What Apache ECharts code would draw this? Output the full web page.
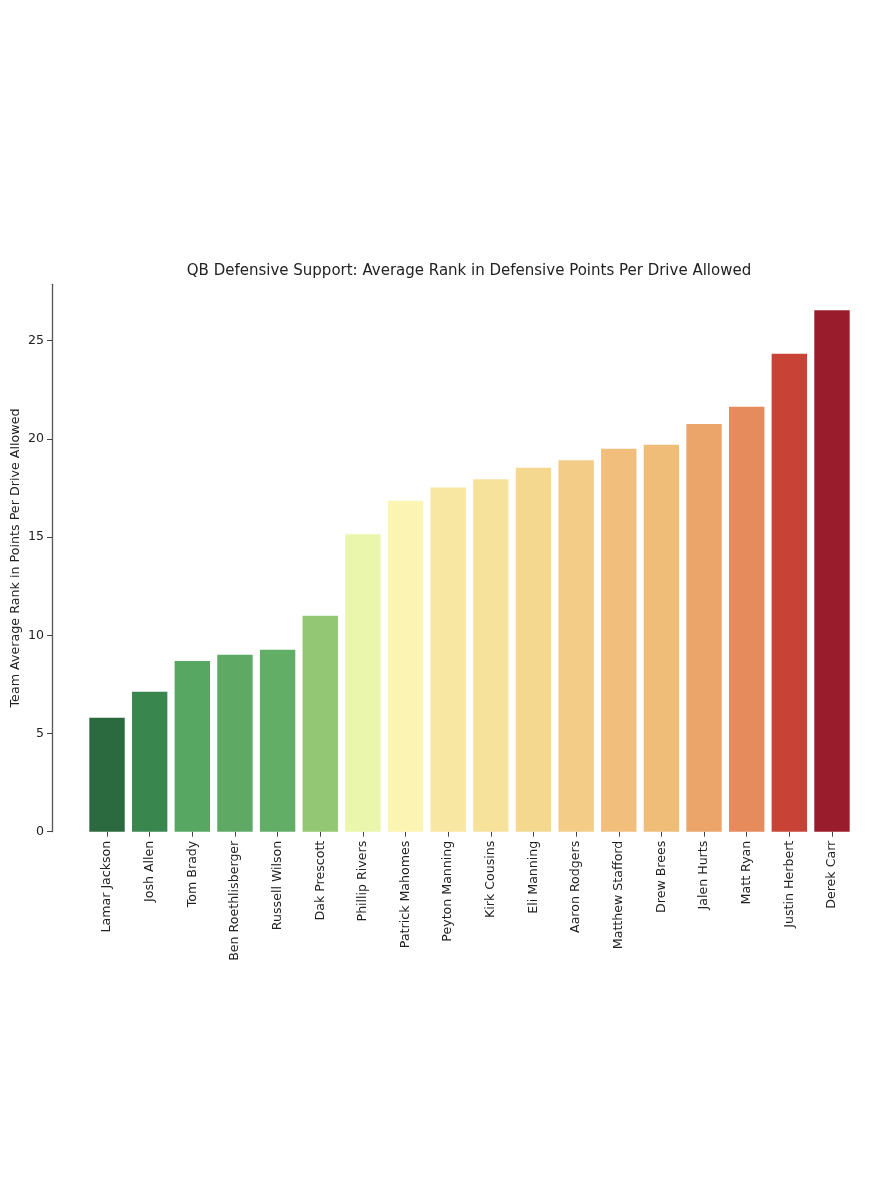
<!DOCTYPE html>
<html>
<head>
<meta charset="utf-8">
<script src="https://cdn.jsdelivr.net/npm/echarts@6/dist/echarts.min.js"></script>
<style>
  html, body { margin: 0; padding: 0; background: #fff; }
  #main { width: 895px; height: 1200px; }
</style>
</head>
<body>
<div id="main"></div>
<script>
var players = ['Lamar Jackson', 'Josh Allen', 'Tom Brady', 'Ben Roethlisberger', 'Russell Wilson',
  'Dak Prescott', 'Phillip Rivers', 'Patrick Mahomes', 'Peyton Manning', 'Kirk Cousins',
  'Eli Manning', 'Aaron Rodgers', 'Matthew Stafford', 'Drew Brees', 'Jalen Hurts',
  'Matt Ryan', 'Justin Herbert', 'Derek Carr'];
var avgRank = [5.8, 7.13, 8.69, 9.01, 9.27, 11.0, 15.14, 16.85, 17.53, 17.94,
  18.53, 18.91, 19.5, 19.7, 20.76, 21.64, 24.34, 26.55];
var barColors = ['#2b693e', '#3a864f', '#57a662', '#5eaa65', '#63ae67', '#93c773',
  '#e9f6ab', '#fcf4b2', '#f8e7a2', '#f7e29b', '#f5d88f', '#f3cc87', '#f1bf7b',
  '#f0bd79', '#eba46a', '#e68b5b', '#c84335', '#981c2b'];
var yTicks = [0, 5, 10, 15, 20, 25];

var chart = echarts.init(document.getElementById('main'), null, { renderer: 'canvas' });

var font = 'DejaVu Sans';
var option = {
  backgroundColor: '#fff',
  animation: false,
  title: {
    text: 'QB Defensive Support: Average Rank in Defensive Points Per Drive Allowed',
    left: 464,
    top: 259,
    textAlign: 'center',
    textStyle: { fontFamily: font, fontSize: 15, fontWeight: 'normal', color: '#222' }
  },
  grid: {
    left: 85.7,
    right: 41.7,
    top: 284.3,
    bottom: 368.3,
    containLabel: false,
    outerBoundsMode: 'none'
  },
  xAxis: {
    type: 'category',
    data: players,
    axisLine: { show: false },
    axisTick: { show: true, alignWithLabel: true, length: 5, lineStyle: { color: '#444' } },
    axisLabel: {
      rotate: 90,
      interval: 0,
      margin: 9,
      fontFamily: font,
      fontSize: 12.6,
      color: '#222'
    }
  },
  yAxis: {
    type: 'value',
    min: 0,
    max: 27.87,
    interval: 5,
    offset: 33.7,
    name: 'Team Average Rank in Points Per Drive Allowed',
    nameLocation: 'middle',
    nameGap: 30,
    nameMoveOverlap: false,
    nameTextStyle: { fontFamily: font, fontSize: 12.7, color: '#222' },
    splitLine: { show: false },
    axisLine: { show: true, lineStyle: { color: '#555', width: 1.3 } },
    axisTick: { show: true, length: 5, customValues: yTicks, lineStyle: { color: '#444' } },
    axisLabel: {
      customValues: yTicks,
      margin: 8,
      fontFamily: font,
      fontSize: 12.6,
      color: '#222'
    }
  },
  series: [{
    type: 'bar',
    data: avgRank.map(function (v, i) {
      return { value: v, itemStyle: { color: barColors[i] } };
    }),
    barCategoryGap: '17%'
  }]
};
chart.setOption(option);
</script>
</body>
</html>
